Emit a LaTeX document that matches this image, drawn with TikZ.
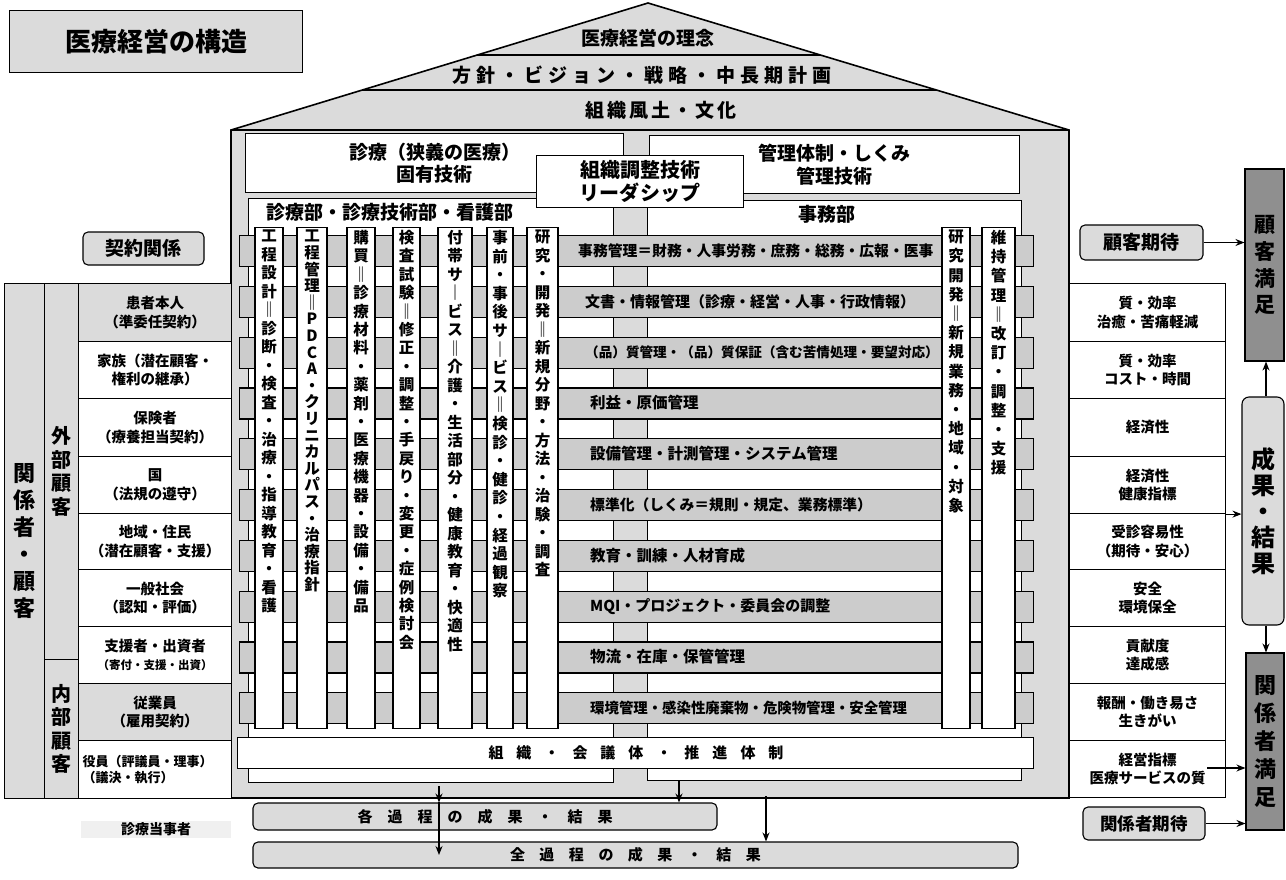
\documentclass[tikz,border=0pt]{standalone}
\usepackage{fontspec}
\setmainfont{Noto Sans CJK JP}
\usetikzlibrary{arrows.meta,calc}
\definecolor{lgray}{gray}{0.86}
\definecolor{bgray}{gray}{0.80}
\definecolor{dgray}{gray}{0.56}
\makeatletter
\newcommand\sepchars[2]{\gdef\sc@sep{#1}\sc@go#2\relax}
\def\sc@go#1{#1\futurelet\sc@tok\sc@chk}
\def\sc@chk{\ifx\sc@tok\relax\expandafter\@gobble\else\expandafter\sc@next\fi}
\def\sc@next{\sc@sep\sc@go}
\makeatother
\newcommand\vtxt[1]{\sepchars{\\}{#1}}
\newcommand\sptxt[2]{\sepchars{\hspace{#1}}{#2}}
\begin{document}
\bfseries
\begin{tikzpicture}
[x=1pt,y=-1pt,
box/.style={draw, line width=1.1pt, inner sep=0pt},
wbox/.style={box, fill=white},
gbox/.style={box, fill=lgray},
rbox/.style={box, fill=lgray, rounded corners=5pt},
bar/.style={box, fill=bgray, minimum width=794, minimum height=31, anchor=north west},
colbox/.style={wbox, minimum height=501, anchor=north},
vt/.style={align=center, inner sep=0pt, font=\fontsize{15.5}{#1}\selectfont},
cell/.style={box, minimum width=153, anchor=north west, align=center, font=\fontsize{14.5}{18.5}\selectfont},
arr/.style={line width=1.2pt, -{Stealth[length=9pt,width=7pt]}},
f19/.style={font=\fontsize{19}{22.5}\selectfont}]
\useasboundingbox (0,0) rectangle (1286,879);

\coordinate (apex) at (648,3);
\coordinate (eaveL) at (231,130);
\coordinate (eaveR) at (1069,130);
\draw[line width=1.6pt, fill=lgray] (231,798) -- (eaveL) -- (apex) -- (eaveR) -- (1069,798) -- cycle;
\draw[line width=1.6pt] (eaveL) -- (eaveR);
\draw[line width=1.4pt] ($(apex)!{52/127}!(eaveL)$) -- ($(apex)!{52/127}!(eaveR)$);
\draw[line width=1.4pt] ($(apex)!{87/127}!(eaveL)$) -- ($(apex)!{87/127}!(eaveR)$);
\node[f19] (rinen) at (648,38) {医療経営の理念};
\node[f19] (hoshin) at (642,75) {\sptxt{5pt}{方針・ビジョン・戦略・中長期計画}};
\node[f19] (fudo) at (661,110) {\sptxt{3pt}{組織風土・文化}};

\node[wbox, minimum width=378, minimum height=59, anchor=north west, align=center, f19] (shinryo) at (245,133) {診療（狭義の医療）\\固有技術};
\node[wbox, minimum width=370, minimum height=58, anchor=north west, align=center, f19] (kanri) at (649,135) {管理体制・しくみ\\管理技術};

\node[wbox, minimum width=365, minimum height=584, anchor=north west] (shinryobu) at (248,198) {};
\node[f19, anchor=west] (shinryobuT) at (263,212) {診療部・診療技術部・看護部};
\node[wbox, minimum width=374, minimum height=580, anchor=north west] (jimubu) at (647,200) {};
\node[f19] (jimubuT) at (827,214) {事務部};

\foreach \k in {0,...,9}
  \node[bar] (bar\k) at (239,235+50.8*\k) {};

\foreach \n/\x/\w/\p/\txt in {
1/269/28/18.5/工程設計‖診断・検査・治療・指導教育・看護,
2/312/30/16.6/工程管理‖PDCA・クリニカルパス・治療指針,
3/361/28/18.4/購買‖診療材料・薬剤・医療機器・設備・備品,
4/406.5/27/18.4/検査試験‖修正・調整・手戻り・変更・症例検討会,
5/455/34/18.5/付帯サ｜ビス‖介護・生活部分・健康教育・快適性,
6/500/26/18.6/事前・事後サ｜ビス‖検診・健診・経過観察,
7/542.5/31/18.5/研究・開発‖新規分野・方法・治験・調査,
8/956/28/19.2/研究開発‖新規業務・地域・対象,
9/998.5/33/19.2/維持管理‖改訂・調整・支援}{
  \node[colbox, minimum width=\w] (col\n) at (\x,227) {};
  \node[vt=\p, anchor=north] (colT\n) at (\x,230) {\expandafter\vtxt\expandafter{\txt}};
}

\foreach \k/\x/\fs/\txt in {
0/578/14.8/{事務管理＝財務・人事労務・庶務・総務・広報・医事},
1/585/15/{文書・情報管理（診療・経営・人事・行政情報）},
2/585/13.6/{（品）質管理・（品）質保証（含む苦情処理・要望対応）},
3/590/15.5/{利益・原価管理},
4/590/15.5/{設備管理・計測管理・システム管理},
5/590/14.8/{標準化（しくみ＝規則・規定、業務標準）},
6/590/15.5/{教育・訓練・人材育成},
7/590/15/{MQI・プロジェクト・委員会の調整},
8/590/15.5/{物流・在庫・保管管理},
9/590/14.4/{環境管理・感染性廃棄物・危険物管理・安全管理}}
  \node[anchor=west, inner sep=0pt, font=\fontsize{\fs}{\fs}\selectfont] (barT\k) at (\x,250.5+50.8*\k) {\txt};

\node[wbox, minimum width=207, minimum height=52, anchor=north west, align=center, font=\fontsize{20}{23}\selectfont] (chosei) at (536,155) {組織調整技術\\リーダシップ};
\node[wbox, minimum width=796, minimum height=31, anchor=north west] (soshiki) at (237,737) {};
\node[font=\fontsize{15}{15}\selectfont] (soshikiT) at (636,752.5) {\sptxt{13pt}{組織・会議体・推進体制}};

\node[gbox, minimum width=293, minimum height=62, anchor=north west, font=\fontsize{26}{30}\selectfont] (title) at (9,10) {医療経営の構造};
\node[rbox, minimum width=121, minimum height=33, f19] (keiyaku) at (143.5,248.5) {契約関係};

\node[gbox, minimum width=40, minimum height=515, anchor=north west, align=center, font=\fontsize{22}{27}\selectfont] (kankei) at (4,283) {\vtxt{関係者・顧客}};
\node[gbox, minimum width=34, minimum height=376, anchor=north west, align=center, font=\fontsize{20}{23.5}\selectfont] (gaibu) at (44,283) {\vtxt{外部顧客}};
\node[gbox, minimum width=34, minimum height=139, anchor=north west, align=center, font=\fontsize{20}{23.5}\selectfont] (naibu) at (44,659) {\vtxt{内部顧客}};
\foreach \n/\y/\h/\f/\txt in {
1/283/58/lgray/{患者本人\\（準委任契約）},
2/341/57/white/{家族（潜在顧客・\\権利の継承）},
3/398/58/white/{保険者\\（療養担当契約）},
4/456/57/white/{国\\（法規の遵守）},
5/513/56/white/{地域・住民\\（潜在顧客・支援）},
6/569/57/white/{一般社会\\（認知・評価）},
7/626/57/white/{支援者・出資者\\{\fontsize{11.5}{14}\selectfont（寄付・支援・出資）}},
8/683/57/lgray/{従業員\\（雇用契約）}}
  \node[cell, fill=\f, minimum height=\h] (L\n) at (78,\y) {\txt};
\node[cell, fill=white, minimum height=58, inner xsep=4pt, text width=145, align=left, font=\fontsize{13}{16}\selectfont] (L9) at (78,740) {役員（評議員・理事）\\（議決・執行）};
\node[fill=black!6, minimum width=150, minimum height=17, inner sep=0pt, font=\fontsize{14}{14}\selectfont] (tojisha) at (156,829) {診療当事者};

\foreach \n/\y/\h/\txt in {
1/283/58/{質・効率\\治癒・苦痛軽減},
2/341/57/{質・効率\\コスト・時間},
3/398/58/{経済性},
4/456/57/{経済性\\健康指標},
5/513/56/{受診容易性\\（期待・安心）},
6/569/57/{安全\\環境保全},
7/626/57/{貢献度\\達成感},
8/683/57/{報酬・働き易さ\\生きがい},
9/740/57/{経営指標\\医療サービスの質}}
  \node[cell, fill=white, minimum width=156, minimum height=\h] (R\n) at (1069,\y) {\txt};

\node[rbox, minimum width=123, minimum height=35, f19] (kokyakuKitai) at (1141.5,242.5) {顧客期待};
\node[box, fill=dgray, minimum width=39, minimum height=192, align=center, font=\fontsize{21}{26.7}\selectfont] (kokyakuManzoku) at (1264.5,265) {\vtxt{顧客満足}};
\node[rbox, rounded corners=7pt, minimum width=42, minimum height=228, align=center, font=\fontsize{24}{26}\selectfont] (seika) at (1263,511) {\vtxt{成果・結果}};
\node[box, fill=dgray, minimum width=38, minimum height=177, align=center, font=\fontsize{22}{28}\selectfont] (kankeiManzoku) at (1265,741.5) {\vtxt{関係者満足}};
\node[rbox, minimum width=122, minimum height=33, font=\fontsize{17.5}{20}\selectfont] (kankeiKitai) at (1144,823.5) {関係者期待};

\node[rbox, minimum width=464, minimum height=27, font=\fontsize{15}{15}\selectfont] (kaku) at (485,816.5) {\sptxt{15pt}{各過程の成果・結果}};
\node[rbox, minimum width=765, minimum height=26, font=\fontsize{15}{15}\selectfont] (zen) at (635.5,855) {\sptxt{14.5pt}{全過程の成果・結果}};

\coordinate (a1) at (439,786);
\coordinate (a2) at (679,781);
\coordinate (a3) at (766,796);
\coordinate (a4) at (1207,768);
\draw[arr] (a1) -- (a1 |- kaku.north);
\draw[arr] (a1 |- kaku.north) -- (a1 |- zen.center);
\draw[arr] (a2) -- (a2 |- kaku.north);
\draw[arr] (a3) -- (a3 |- zen.north);
\draw[arr] (kokyakuKitai.east) -- (kokyakuKitai.east -| kokyakuManzoku.west);
\draw[arr] ([xshift=3pt]seika.north) -- ([xshift=3pt]seika.north |- kokyakuManzoku.south);
\draw[arr] ([xshift=3pt]seika.south) -- ([xshift=3pt]seika.south |- kankeiManzoku.north);
\draw[arr] (R4.south east) -- (R4.south east -| seika.west);
\draw[arr] (a4) -- (a4 -| kankeiManzoku.west);
\draw[arr] (kankeiKitai.east) -- (kankeiKitai.east -| kankeiManzoku.west);
\end{tikzpicture}
\end{document}
